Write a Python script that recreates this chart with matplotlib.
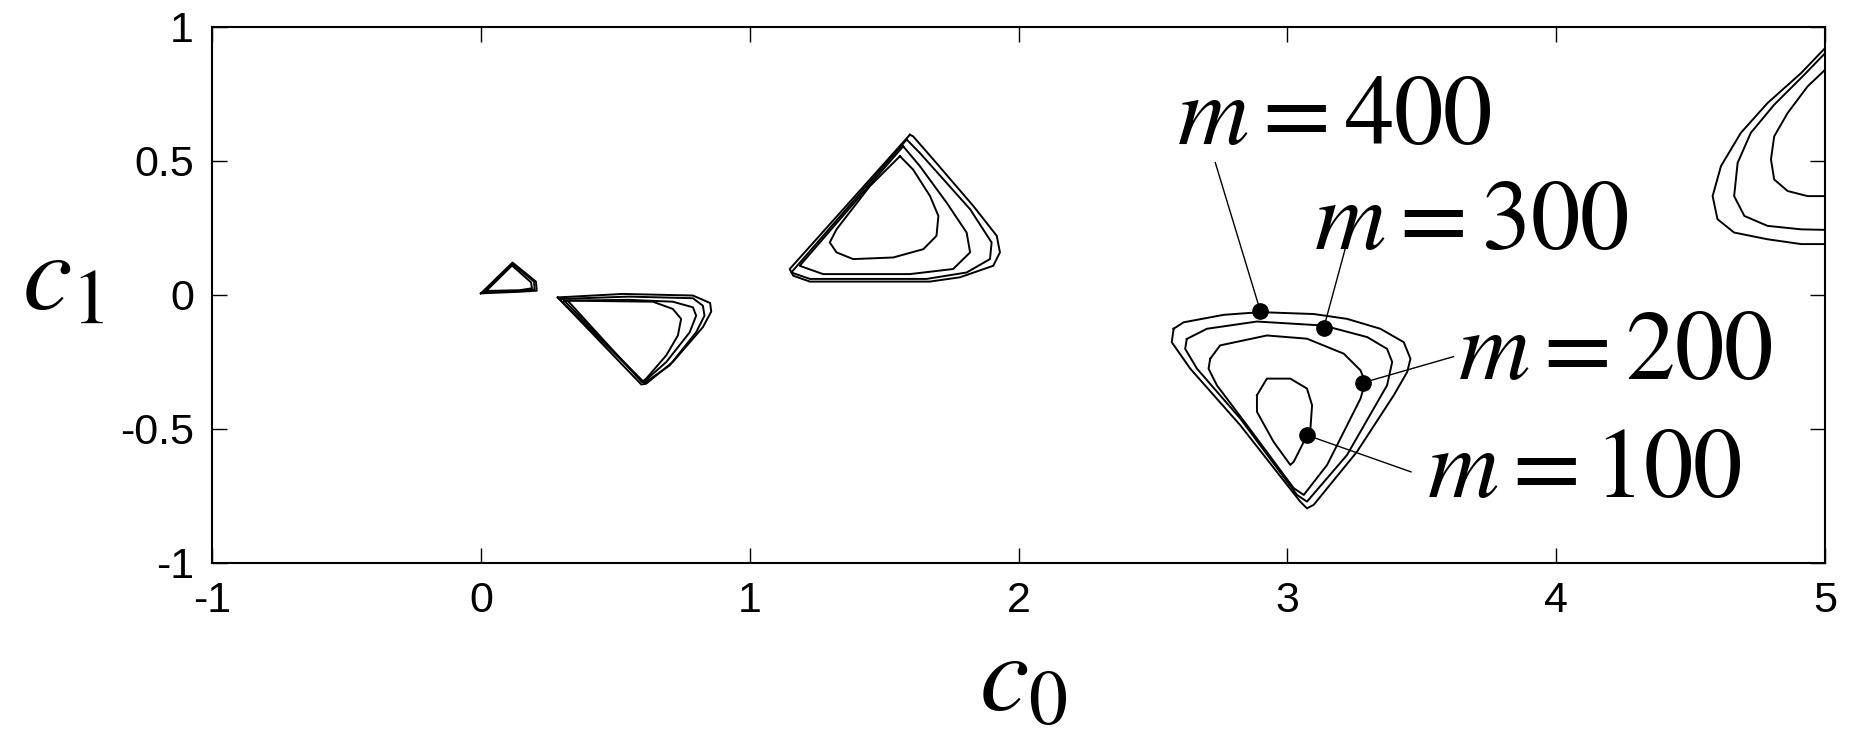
import numpy as np
import matplotlib
matplotlib.use("Agg")
import matplotlib.pyplot as plt

plt.rcParams['mathtext.fontset'] = 'stix'
plt.rcParams['font.family'] = ['Liberation Sans Narrow', 'Liberation Sans', 'DejaVu Sans']

# closed level curves (c0, c1) for m = 100 ... 400
# small triangle near the origin
tri_m400 = [(0.0, 0.006), (0.118, 0.121), (0.205, 0.05), (0.208, 0.016), (0.143, 0.012), (0.0, 0.006)]
tri_m300 = [(0.01, 0.01), (0.117, 0.116), (0.198, 0.05), (0.2, 0.02), (0.14, 0.015), (0.01, 0.01)]
tri_m200 = [(0.02, 0.015), (0.116, 0.11), (0.187, 0.047), (0.19, 0.025), (0.145, 0.018), (0.02, 0.015)]

# quadrilateral loop between 0.3 and 0.85
quad_m400 = [(0.286, -0.009), (0.528, 0.004), (0.789, -0.002), (0.853, -0.03), (0.857, -0.062),
             (0.826, -0.12), (0.714, -0.25), (0.615, -0.331), (0.597, -0.334), (0.286, -0.009)]
quad_m300 = [(0.292, -0.015), (0.55, -0.006), (0.789, -0.012), (0.826, -0.04), (0.832, -0.077),
             (0.801, -0.139), (0.702, -0.263), (0.609, -0.328), (0.292, -0.015)]
quad_m200 = [(0.31, -0.021), (0.55, -0.018), (0.714, -0.025), (0.789, -0.046), (0.801, -0.077),
             (0.777, -0.139), (0.69, -0.25), (0.605, -0.325), (0.31, -0.021)]
quad_m100 = [(0.323, -0.021), (0.64, -0.025), (0.714, -0.052), (0.745, -0.089), (0.733, -0.151),
             (0.69, -0.225), (0.615, -0.312), (0.599, -0.325), (0.323, -0.021)]

# triangle around c0 = 1.5
big_m400 = [(1.596, 0.598), (1.149, 0.097), (1.162, 0.072), (1.224, 0.05), (1.67, 0.05), (1.782, 0.066),
            (1.906, 0.109), (1.931, 0.159), (1.919, 0.221), (1.832, 0.332), (1.683, 0.506), (1.608, 0.592),
            (1.596, 0.598)]
big_m300 = [(1.584, 0.58), (1.155, 0.084), (1.224, 0.06), (1.658, 0.06), (1.807, 0.084), (1.894, 0.134),
            (1.9, 0.196), (1.82, 0.32), (1.633, 0.53), (1.584, 0.58)]
big_m200 = [(1.571, 0.555), (1.186, 0.109), (1.273, 0.078), (1.596, 0.078), (1.757, 0.097), (1.82, 0.159),
            (1.807, 0.233), (1.733, 0.344), (1.633, 0.481), (1.571, 0.555)]
big_m100 = [(1.559, 0.518), (1.447, 0.406), (1.323, 0.245), (1.298, 0.196), (1.323, 0.159), (1.385, 0.134),
            (1.534, 0.14), (1.646, 0.171), (1.695, 0.221), (1.702, 0.295), (1.671, 0.369), (1.608, 0.468),
            (1.559, 0.518)]

# loops around c0 = 3
heart_m400 = [(2.577, -0.126), (2.614, -0.102), (2.763, -0.074), (2.899, -0.064), (3.098, -0.071),
              (3.222, -0.089), (3.346, -0.126), (3.433, -0.176), (3.458, -0.238), (3.446, -0.287),
              (3.396, -0.374), (3.259, -0.585), (3.098, -0.783), (3.073, -0.796), (3.048, -0.771),
              (2.825, -0.486), (2.639, -0.275), (2.57, -0.176), (2.577, -0.126)]
heart_m300 = [(2.626, -0.164), (2.701, -0.126), (2.887, -0.099), (3.135, -0.114), (3.297, -0.157),
              (3.371, -0.201), (3.39, -0.25), (3.371, -0.337), (3.222, -0.597), (3.073, -0.771),
              (3.036, -0.746), (2.825, -0.461), (2.664, -0.275), (2.62, -0.201), (2.626, -0.164)]
heart_m200 = [(2.713, -0.238), (2.75, -0.188), (2.924, -0.151), (3.073, -0.163), (3.21, -0.219),
              (3.272, -0.281), (3.29, -0.325), (3.272, -0.387), (3.148, -0.634), (3.061, -0.746),
              (3.024, -0.721), (2.85, -0.486), (2.738, -0.337), (2.707, -0.275), (2.713, -0.238)]
heart_m100 = [(2.887, -0.374), (2.924, -0.312), (3.011, -0.312), (3.073, -0.349), (3.092, -0.411),
              (3.086, -0.498), (3.024, -0.622), (3.011, -0.634), (2.949, -0.548), (2.887, -0.436),
              (2.887, -0.374)]

# loops cut by the right edge
edge_m400 = [(5.0, 0.921), (4.911, 0.828), (4.786, 0.716), (4.687, 0.605), (4.613, 0.481), (4.582, 0.369),
             (4.6, 0.283), (4.662, 0.233), (4.786, 0.208), (4.911, 0.19), (5.0, 0.19)]
edge_m300 = [(5.0, 0.902), (4.923, 0.822), (4.811, 0.71), (4.724, 0.605), (4.675, 0.493), (4.662, 0.369),
             (4.7, 0.295), (4.786, 0.258), (4.911, 0.245), (5.0, 0.243)]
edge_m200 = [(5.0, 0.84), (4.935, 0.778), (4.861, 0.679), (4.811, 0.592), (4.799, 0.506), (4.811, 0.431),
             (4.861, 0.388), (4.935, 0.369), (5.0, 0.369)]

curves = [tri_m400, tri_m300, tri_m200,
          quad_m400, quad_m300, quad_m200, quad_m100,
          big_m400, big_m300, big_m200, big_m100,
          heart_m400, heart_m300, heart_m200, heart_m100,
          edge_m400, edge_m300, edge_m200]

# labelled points on the loops around c0 = 3
label_text = [r'$m = 400$', r'$m = 300$', r'$m = 200$', r'$m = 100$']
dot_c0 = [2.899, 3.135, 3.282, 3.073]
dot_c1 = [-0.058, -0.124, -0.327, -0.523]
lead_c0 = [2.732, 3.223, 3.618, 3.46]
lead_c1 = [0.494, 0.201, -0.23, -0.66]
text_c0 = [2.59, 3.10, 3.633, 3.518]
text_c1 = [0.565, 0.171, -0.313, -0.754]

fig = plt.figure(figsize=(18.52, 7.35), dpi=100)
ax = fig.add_axes([212 / 1852, 1 - 563 / 735, (1825 - 212) / 1852, (563 - 27) / 735])

for pts in curves:
    xy = np.array(pts)
    ax.plot(xy[:, 0], xy[:, 1], color='black', lw=1.4)

for i in range(len(label_text)):
    ax.plot([dot_c0[i], lead_c0[i]], [dot_c1[i], lead_c1[i]], color='black', lw=1.0)
    ax.plot(dot_c0[i], dot_c1[i], 'o', color='black', ms=11)
    ax.text(text_c0[i], text_c1[i], label_text[i], fontsize=71, ha='left', va='baseline')

ax.set_xlim(-1, 5)
ax.set_ylim(-1, 1)
ax.set_xticks([-1, 0, 1, 2, 3, 4, 5])
ax.set_xticklabels(['-1', '0', '1', '2', '3', '4', '5'])
ax.set_yticks([-1, -0.5, 0, 0.5, 1])
ax.set_yticklabels(['-1', '-0.5', '0', '0.5', '1'])
ax.tick_params(direction='in', length=10.8, width=1.0, top=True, right=True,
               labelsize=31, pad=13)
for s in ax.spines.values():
    s.set_linewidth(1.5)

fig.text(979 / 1852, 1 - 710 / 735, r'$c_0$', fontsize=80, ha='left', va='baseline')
fig.text(22 / 1852, 1 - 310 / 735, r'$c_1$', fontsize=80, ha='left', va='baseline')

fig.savefig('out.png', dpi=100)
